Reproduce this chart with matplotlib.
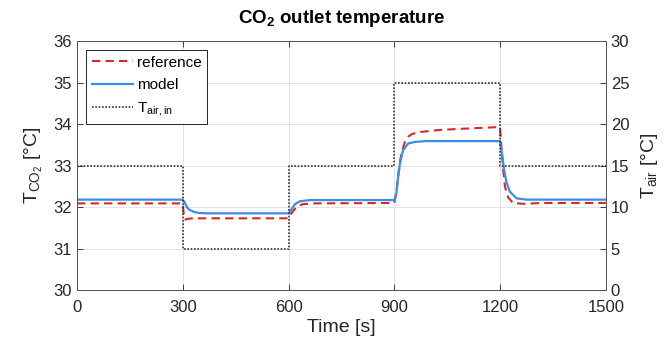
import matplotlib
matplotlib.use("Agg")
import matplotlib.pyplot as plt

plt.rcParams['font.family'] = ['Liberation Sans', 'DejaVu Sans']
plt.rcParams['mathtext.fontset'] = 'custom'
plt.rcParams['mathtext.rm'] = 'Liberation Sans'
plt.rcParams['mathtext.it'] = 'Liberation Sans:italic'
plt.rcParams['mathtext.bf'] = 'Liberation Sans:bold'

# reference CO2 outlet temperature [°C]
t_ref = [0, 300, 302, 304, 308, 315, 330, 600, 608, 623, 641, 670, 900,
         906, 911, 916, 921, 930, 940, 950, 975, 1030, 1100, 1150, 1200,
         1204, 1209, 1214, 1223, 1237, 1266, 1320, 1500]
T_ref = [32.09, 32.09, 31.90, 31.72, 31.70, 31.72, 31.73, 31.73, 31.85, 32.01, 32.07, 32.09, 32.10,
         32.35, 32.75, 33.08, 33.32, 33.57, 33.70, 33.76, 33.81, 33.86, 33.89, 33.91, 33.93,
         33.45, 32.89, 32.49, 32.23, 32.10, 32.08, 32.10, 32.10]

# model CO2 outlet temperature [°C]
t_mod = [0, 300, 305, 311, 318, 330, 345, 370, 600, 608, 618, 632, 661, 900,
         906, 911, 916, 925, 939, 958, 990, 1200,
         1207, 1211, 1218, 1228, 1247, 1275, 1500]
T_mod = [32.18, 32.18, 32.12, 32.01, 31.94, 31.89, 31.86, 31.85, 31.85, 31.94, 32.07, 32.14, 32.17, 32.17,
         32.33, 32.73, 33.05, 33.37, 33.53, 33.57, 33.59, 33.59,
         33.21, 32.93, 32.61, 32.37, 32.21, 32.18, 32.18]

# inlet air temperature steps [°C]
t_air = [0, 300, 600, 900, 1200, 1500]
T_air = [15, 5, 15, 25, 15, 15]

fig = plt.figure(figsize=(6.66, 3.45), dpi=100)
ax = fig.add_axes([0.1156, 0.159, 0.794, 0.722])
ax2 = ax.twinx()

dark = '#262626'

l1, = ax.plot(t_ref, T_ref, '--', color='#d9262b', lw=1.5, dashes=(4, 2.5), label='reference')
l2, = ax.plot(t_mod, T_mod, '-', color='#3a8ee6', lw=1.6, label='model')
l3, = ax2.plot(t_air, T_air, color='#333333', lw=1.2, dashes=(1, 1), drawstyle='steps-post',
               label=r'$\mathrm{T_{air,in}}$')

ax.set_xlim(0, 1500)
ax.set_ylim(30, 36)
ax2.set_ylim(0, 30)
ax.set_xticks([0, 300, 600, 900, 1200, 1500])
ax.set_yticks([30, 31, 32, 33, 34, 35, 36])
ax2.set_yticks([0, 5, 10, 15, 20, 25, 30])

ax.grid(True, color='#e3e3e3', lw=0.7)
ax.set_axisbelow(True)

for a in (ax, ax2):
    a.tick_params(direction='in', length=4, width=0.6, labelsize=12, colors=dark)
    for s in a.spines.values():
        s.set_color('#555555')
        s.set_linewidth(0.7)
ax.tick_params(top=True, right=False)
ax.tick_params(axis='x', pad=7)
ax2.tick_params(left=False)

ax.set_xlabel('Time [s]', fontsize=14, color=dark, labelpad=3)
ax.set_ylabel(r'$\mathrm{T_{CO_2}}$ [°C]', fontsize=14, color=dark, labelpad=6)
ax2.set_ylabel(r'$\mathrm{T_{air}}$ [°C]', fontsize=14, color=dark, labelpad=7)
ax.set_title(r'$\mathbf{CO_2}$ outlet temperature', fontsize=13.5, fontweight='bold',
             color='black', pad=13)

leg = ax2.legend(handles=[l1, l2, l3], loc='upper left', fontsize=11, frameon=True,
                 fancybox=False, edgecolor='#262626', framealpha=1, borderpad=0.35,
                 handlelength=2.7, handletextpad=0.3, labelspacing=0.55,
                 borderaxespad=0.6)
leg.get_frame().set_linewidth(0.7)

fig.savefig('out.png', dpi=100)
